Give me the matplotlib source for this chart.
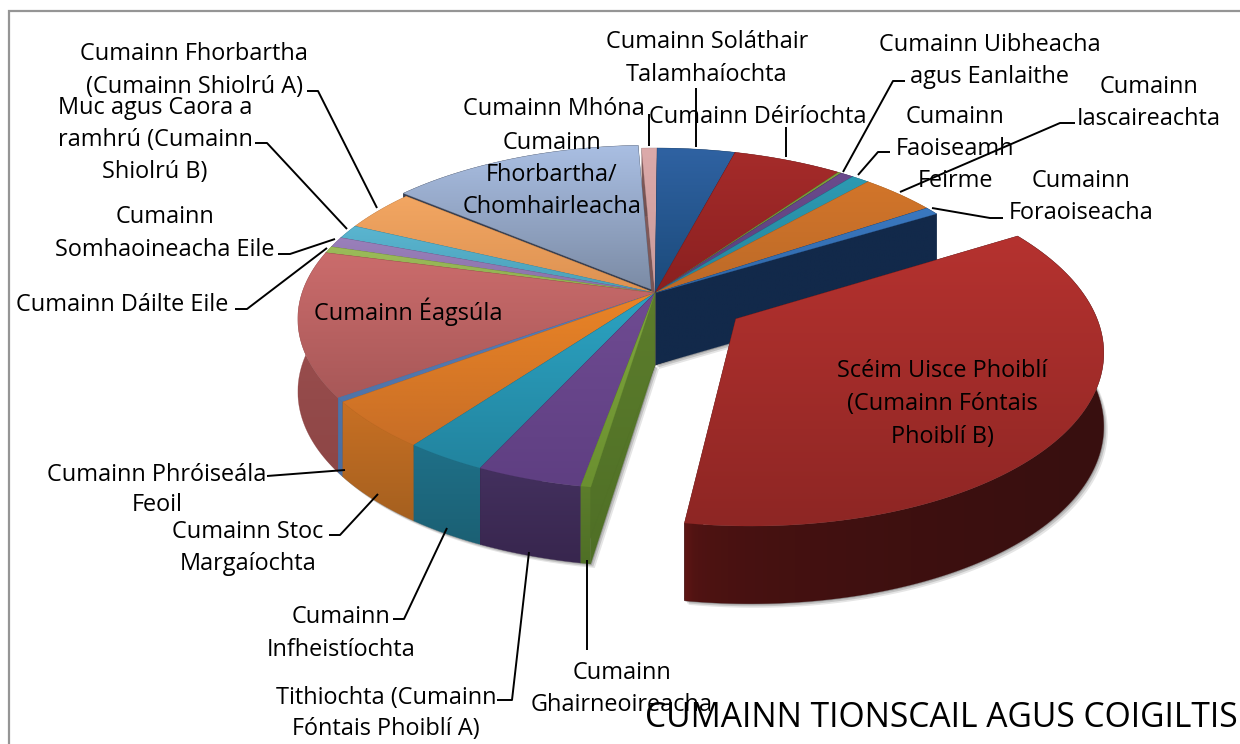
import numpy as np
import matplotlib
matplotlib.use('Agg')
import matplotlib.pyplot as plt
from matplotlib.colors import LinearSegmentedColormap
from matplotlib.patches import Polygon, Rectangle

plt.rcParams['font.family'] = ['Open Sans', 'DejaVu Sans']

# Slice shares (percent), clockwise from the top, starting at the first blue slice
slice_names = ['Cumainn Soláthair Talamhaíochta', 'Cumainn Déiríochta', '', 'Cumainn Uibheacha agus Eanlaithe',
               'Cumainn Faoiseamh Feirme', 'Cumainn Iascaireachta', 'Cumainn Foraoiseacha',
               'Scéim Uisce Phoiblí (Cumainn Fóntais Phoiblí B)', 'Cumainn Ghairneoireacha',
               'Tithiochta (Cumainn Fóntais Phoiblí A)', 'Cumainn Infheistíochta', 'Cumainn Stoc Margaíochta',
               'Cumainn Phróiseála Feoil', 'Cumainn Éagsúla', 'Cumainn Dáilte Eile', 'Cumainn Somhaoineacha Eile',
               'Muc agus Caora a ramhrú (Cumainn Shiolrú B)', 'Cumainn Fhorbartha (Cumainn Shiolrú A)',
               'Cumainn Fhorbartha/Chomhairleacha', 'Cumainn Mhóna']
slice_values = [4.08, 5.72, 0.17, 0.69, 0.94, 4.00, 0.75, 36.00, 0.39, 4.16, 3.22, 4.64, 0.39, 13.75,
                0.64, 1.0, 1.33, 3.94, 13.36, 0.81]
slice_explode = [0, 0, 0, 0, 0, 0, 0, 0.27, 0, 0, 0, 0, 0, 0, 0, 0, 0, 0, 0.025, 0]

top_light = ['#2f62a2', '#a52b2a', '#7f9f3c', '#6b4a8c', '#2d9ab2', '#d2752a', '#3a78c0', '#b5322f', '#7fa63e',
             '#6f4b92', '#2ca3c2', '#ea8426', '#5b7fb8', '#cb6c6c', '#9bbb59', '#9a80bb', '#5ab5d0', '#f2a662',
             '#a9bee2', '#dcaaaa']
top_dark = ['#1b4a7a', '#8a2020', '#6a8a30', '#5a3f7a', '#24849c', '#bc6a28', '#3068a8', '#8e2624', '#6b9030',
            '#5f3f82', '#22849f', '#c86e26', '#4f74a8', '#a85858', '#90b050', '#8a72a8', '#4aa0b8', '#dd9252',
            '#7c8ca6', '#c99a9a']
wall_light = ['#1c3d66', '#6a1a1a', '#55702a', '#3f2a55', '#1f6d85', '#a05a1e', '#12294a', '#5c1514', '#5c7d2c',
              '#43305e', '#1f7088', '#c87024', '#4f74a8', '#a25252', '#6f8a3c', '#6b5685', '#3c8298', '#b87a40',
              '#3e4658', '#8a6060']
wall_dark = ['#12294a', '#4a1010', '#46602a', '#33214a', '#1a5c70', '#955519', '#12294a', '#380f0f', '#4f6f26',
             '#38264e', '#1b6074', '#a5601f', '#4a6da0', '#8d4646', '#5c7530', '#5a4870', '#316b7e', '#9a6636',
             '#343a4a', '#705050']

# label text, x, y of the line centres
label_texts = ['Cumainn Fhorbartha', '(Cumainn Shiolrú A)', 'Muc agus Caora a', 'ramhrú (Cumainn', 'Shiolrú B)',
               'Cumainn', 'Somhaoineacha Eile', 'Cumainn Dáilte Eile', 'Cumainn Phróiseála', 'Feoil',
               'Cumainn Stoc', 'Margaíochta', 'Cumainn', 'Infheistíochta', 'Tithiochta (Cumainn',
               'Fóntais Phoiblí A)', 'Cumainn', 'Ghairneoireacha', 'Cumainn Mhóna', 'Cumainn Soláthair',
               'Talamhaíochta', 'Cumainn Déiríochta', 'Cumainn Uibheacha', 'agus Eanlaithe', 'Cumainn',
               'Faoiseamh', 'Feirme', 'Cumainn', 'Iascaireachta', 'Cumainn', 'Foraoiseacha',
               'Scéim Uisce Phoiblí', '(Cumainn Fóntais', 'Phoiblí B)', 'Cumainn Éagsúla', 'Cumainn',
               'Fhorbartha/', 'Chomhairleacha']
label_x = [194, 194, 155, 155, 155, 165, 165, 122, 157, 157, 248, 248, 341, 341, 386, 386, 622, 622, 554, 707,
           707, 758, 990, 990, 955, 955, 955, 1149, 1149, 1081, 1081, 942, 942, 942, 408, 552, 552, 552]
label_y = [52, 85, 106, 138, 170, 215, 248, 303, 473, 503, 530, 562, 615, 648, 696, 727, 671, 703, 107, 40, 73,
           115, 43, 75, 115, 147, 179, 85, 117, 179, 211, 369, 402, 435, 310, 141, 173, 205]

# leader lines, (x points, y points)
leaders = [([307, 318, 377], [91, 91, 208]), ([255, 267, 347], [143, 143, 229]), ([278, 290, 335], [254, 254, 239]),
           ([235, 247, 327], [309, 309, 248]), ([267, 345], [476, 470]), ([329, 340, 378], [535, 535, 494]),
           ([393, 404, 447], [619, 619, 528]), ([497, 512, 529], [700, 700, 552]), ([587, 587], [650, 560]),
           ([649, 649], [114, 146]), ([696, 696], [88, 147]), ([786, 786], [127, 157]),
           ([905, 893, 843], [81, 81, 172]), ([890, 878, 858], [152, 152, 175]),
           ([1075, 1060, 900], [123, 123, 192]), ([1003, 990, 932], [218, 218, 208])]

# view of the disc, in pixels
cx, cy, rx, ry, persp, depth = 655, 293, 353, 167, 0.152, 72


def project(x, y, z=0.0):
    s = 1 / (1 - persp * y)
    return cx + rx * x * s, cy + ry * y * s + z * depth * s ** 0.4


def fill_gradient(ax, xs, ys, c1, c2, horizontal=False):
    poly = Polygon(np.column_stack([xs, ys]), closed=True, fc='none', ec='none')
    ax.add_patch(poly)
    cmap = LinearSegmentedColormap.from_list('g', [c1, c2])
    # horizontal ramp falls off fast, only the far left stays light
    ramp = (np.linspace(0, 1, 64) ** 0.3).reshape(1, -1) if horizontal else np.linspace(0, 1, 64).reshape(-1, 1)
    im = ax.imshow(ramp, cmap=cmap, aspect='auto', interpolation='bilinear',
                   extent=(min(xs), max(xs), max(ys), min(ys)), zorder=poly.get_zorder())
    im.set_clip_path(poly)
    # thin edge hides seams between the clipped images
    ax.add_patch(Polygon(np.column_stack([xs, ys]), closed=True, fc='none', ec=c2, lw=0.3, alpha=0.6))


fig = plt.figure(figsize=(12.4, 7.44), dpi=100)
ax = fig.add_axes([0, 0, 1, 1])
ax.set_xlim(0, 1240)
ax.set_ylim(744, 0)
ax.axis('off')
ax.add_patch(Rectangle((9, 11), 1240, 740, fc='white', ec='#959595', lw=1.6, zorder=0))

edges = np.concatenate([[0], np.cumsum(slice_values)]) / np.sum(slice_values) * 2 * np.pi + np.radians(0.4)
slices = []
for i in range(len(slice_values)):
    mid = (edges[i] + edges[i + 1]) / 2
    slices.append((-np.cos(mid) * (0.5 + slice_explode[i]), i))

# soft shadow under the walls
for i in range(len(slice_values)):
    a0, a1 = edges[i], edges[i + 1]
    mid = (a0 + a1) / 2
    ox, oy = slice_explode[i] * np.sin(mid), -slice_explode[i] * np.cos(mid)
    t = np.linspace(a0, a1, max(int(np.degrees(a1 - a0)), 3))
    p = [project(ox, oy, 1)] + [project(ox + np.sin(a), oy - np.cos(a), 1) for a in t]
    for off, alpha in ((4, 0.10), (2.5, 0.14), (1, 0.18)):
        ax.add_patch(Polygon([(q[0] + off, q[1] + off) for q in p], closed=True, fc='black', ec='none',
                             alpha=alpha, zorder=0.5))

# back to front
for _, i in sorted(slices):
    a0, a1 = edges[i], edges[i + 1]
    mid = (a0 + a1) / 2
    ox, oy = slice_explode[i] * np.sin(mid), -slice_explode[i] * np.cos(mid)
    t = np.linspace(a0, a1, max(int(np.degrees(a1 - a0)), 3))
    rim_x, rim_y = ox + np.sin(t), oy - np.cos(t)
    # radial walls
    for a in (a0, a1):
        ex, ey = ox + np.sin(a), oy - np.cos(a)
        p = [project(ox, oy), project(ex, ey), project(ex, ey, 1), project(ox, oy, 1)]
        fill_gradient(ax, [q[0] for q in p], [q[1] for q in p], wall_light[i], wall_dark[i])
    # outer wall, the big slice is shaded left to right
    upper = [project(a, b) for a, b in zip(rim_x, rim_y)]
    lower = [project(a, b, 1) for a, b in zip(rim_x, rim_y)]
    p = upper + lower[::-1]
    fill_gradient(ax, [q[0] for q in p], [q[1] for q in p], wall_light[i], wall_dark[i], horizontal=(i == 7))
    # top face
    p = [project(ox, oy)] + upper
    fill_gradient(ax, [q[0] for q in p], [q[1] for q in p], top_light[i], top_dark[i])

ax.set_xlim(0, 1240)
ax.set_ylim(744, 0)

for lx, ly in leaders:
    ax.plot(lx, ly, color='black', lw=1.4, solid_capstyle='butt', zorder=5)

for s, x, y in zip(label_texts, label_x, label_y):
    ax.text(x, y + 2, s, fontsize=16.9, ha='center', va='center', color='black', zorder=6)

ax.text(1238, 718, 'CUMAINN TIONSCAIL AGUS COIGILTIS', fontsize=24.2, ha='right', va='center', color='black', zorder=7)

fig.savefig('out.png', dpi=100)
